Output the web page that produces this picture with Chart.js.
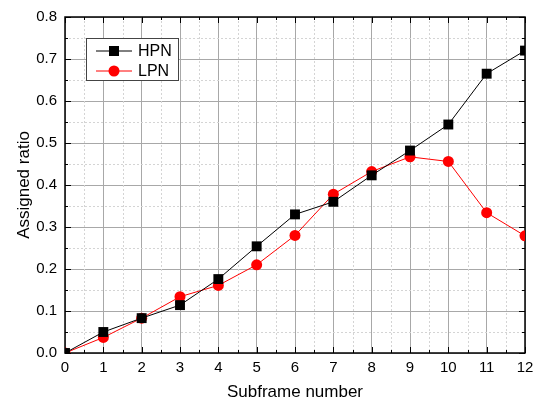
<!DOCTYPE html>
<html>
<head>
<meta charset="utf-8">
<script src="https://cdn.jsdelivr.net/npm/chart.js@4.4.1/dist/chart.umd.min.js"></script>
<style>
  html, body { margin: 0; padding: 0; background: #fff; }
  #wrap { width: 541px; height: 402px; }
</style>
</head>
<body>
<div id="wrap"><canvas id="lineChart" width="541" height="402"></canvas></div>
<script>
// data
const subframes = [0, 1, 2, 3, 4, 5, 6, 7, 8, 9, 10, 11, 12];
const hpn = [0.0, 0.050, 0.083, 0.114, 0.176, 0.254, 0.330, 0.360, 0.423, 0.482, 0.544, 0.665, 0.720];
const lpn = [0.0, 0.037, 0.083, 0.134, 0.161, 0.210, 0.280, 0.378, 0.432, 0.467, 0.456, 0.334, 0.279];
const yTicks = [0.0, 0.1, 0.2, 0.3, 0.4, 0.5, 0.6, 0.7, 0.8];

const FONT = 'Liberation Sans, Arial, sans-serif';

// minor dotted grid + inward ticks + frame
const frameGrid = {
  id: 'frameGrid',
  beforeDatasetsDraw(chart) {
    const { ctx, chartArea: a, scales: { x, y } } = chart;
    ctx.save();
    ctx.lineWidth = 1;
    ctx.strokeStyle = '#d4d4d4';
    ctx.setLineDash([2, 2]);
    for (let i = 0; i < subframes.length - 1; i++) {
      const px = Math.round(x.getPixelForValue(subframes[i] + 0.5)) + 0.5;
      ctx.beginPath(); ctx.moveTo(px, a.top); ctx.lineTo(px, a.bottom); ctx.stroke();
    }
    for (let i = 0; i < yTicks.length - 1; i++) {
      const py = Math.round(y.getPixelForValue(yTicks[i] + 0.05)) + 0.5;
      ctx.beginPath(); ctx.moveTo(a.left, py); ctx.lineTo(a.right, py); ctx.stroke();
    }
    ctx.setLineDash([]);
    ctx.strokeStyle = '#000';
    // x ticks, bottom and top, pointing inside
    subframes.forEach((v, i) => {
      const px = Math.round(x.getPixelForValue(v)) + 0.5;
      ctx.beginPath(); ctx.moveTo(px, a.bottom); ctx.lineTo(px, a.bottom - 6); ctx.stroke();
      ctx.beginPath(); ctx.moveTo(px, a.top); ctx.lineTo(px, a.top + 6); ctx.stroke();
      if (i < subframes.length - 1) {
        const pm = Math.round(x.getPixelForValue(v + 0.5)) + 0.5;
        ctx.beginPath(); ctx.moveTo(pm, a.bottom); ctx.lineTo(pm, a.bottom - 3); ctx.stroke();
        ctx.beginPath(); ctx.moveTo(pm, a.top); ctx.lineTo(pm, a.top + 3); ctx.stroke();
      }
    });
    yTicks.forEach((v, i) => {
      const py = Math.round(y.getPixelForValue(v)) + 0.5;
      ctx.beginPath(); ctx.moveTo(a.left, py); ctx.lineTo(a.left + 6, py); ctx.stroke();
      ctx.beginPath(); ctx.moveTo(a.right, py); ctx.lineTo(a.right - 6, py); ctx.stroke();
      if (i < yTicks.length - 1) {
        const pm = Math.round(y.getPixelForValue(v + 0.05)) + 0.5;
        ctx.beginPath(); ctx.moveTo(a.left, pm); ctx.lineTo(a.left + 3, pm); ctx.stroke();
        ctx.beginPath(); ctx.moveTo(a.right, pm); ctx.lineTo(a.right - 3, pm); ctx.stroke();
      }
    });
    ctx.lineWidth = 1.5;
    ctx.strokeRect(a.left, a.top, a.right - a.left, a.bottom - a.top);
    ctx.restore();
  },
  afterDraw(chart) {
    // legend box inside the plot
    const { ctx } = chart;
    const ds = chart.data.datasets;
    ctx.save();
    ctx.fillStyle = '#fff';
    ctx.fillRect(86, 38, 92, 42);
    ctx.strokeStyle = '#444';
    ctx.lineWidth = 1;
    ctx.strokeRect(86.5, 38.5, 92, 42);
    ctx.font = '16px ' + FONT;
    ctx.textBaseline = 'middle';
    ds.forEach((d, i) => {
      const yy = 51 + i * 20;
      ctx.strokeStyle = d.borderColor;
      ctx.beginPath(); ctx.moveTo(96, yy); ctx.lineTo(132, yy); ctx.stroke();
      ctx.fillStyle = d.pointBackgroundColor;
      if (d.pointStyle === 'rect') {
        ctx.fillRect(109, yy - 5, 10, 10);
      } else {
        ctx.beginPath(); ctx.arc(114, yy, 5.5, 0, Math.PI * 2); ctx.fill();
      }
      ctx.fillStyle = '#000';
      ctx.fillText(d.label, 138, yy + 1);
    });
    ctx.restore();
  }
};

const ctx = document.getElementById('lineChart');

new Chart(ctx, {
  type: 'line',
  data: {
    datasets: [
      {
        label: 'HPN',
        data: subframes.map((s, i) => ({ x: s, y: hpn[i] })),
        borderColor: '#000',
        borderWidth: 1,
        pointStyle: 'rect',
        pointRadius: 7,
        pointBackgroundColor: '#000',
        pointBorderWidth: 0,
        lineTension: 0
      },
      {
        label: 'LPN',
        data: subframes.map((s, i) => ({ x: s, y: lpn[i] })),
        borderColor: '#ff0000',
        borderWidth: 1,
        pointStyle: 'circle',
        pointRadius: 5.5,
        pointBackgroundColor: '#ff0000',
        pointBorderWidth: 0,
        lineTension: 0
      }
    ]
  },
  options: {
    responsive: false,
    animation: false,
    layout: { padding: { top: 16, right: 16, left: 10, bottom: 0 } },
    scales: {
      x: {
        type: 'linear',
        min: 0,
        max: 12,
        afterFit: (s) => { s.height = 49; },
        afterBuildTicks: (s) => { s.ticks = subframes.map(v => ({ value: v })); },
        grid: { color: '#a8a8a8', drawTicks: false },
        border: { display: false },
        ticks: { color: '#000', padding: 6, font: { size: 15, family: FONT } },
        title: { display: true, text: 'Subframe number', color: '#000', padding: { top: 4, bottom: -1 }, font: { size: 17, family: FONT } }
      },
      y: {
        min: 0,
        max: 0.8,
        afterFit: (s) => { s.width = 55; },
        afterBuildTicks: (s) => { s.ticks = yTicks.map(v => ({ value: v })); },
        grid: { color: '#a8a8a8', drawTicks: false },
        border: { display: false },
        ticks: { color: '#000', padding: 8, font: { size: 15, family: FONT }, callback: (v) => v.toFixed(1) },
        title: { display: true, text: 'Assigned ratio', color: '#000', padding: { bottom: 6 }, font: { size: 17, family: FONT } }
      }
    },
    plugins: {
      legend: { display: false },
      tooltip: { enabled: false }
    }
  },
  plugins: [frameGrid]
});
</script>
</body>
</html>
